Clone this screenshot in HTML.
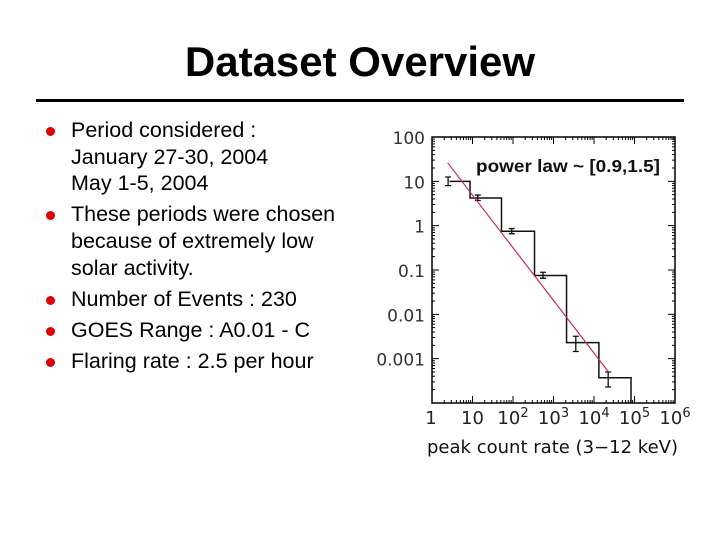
<!DOCTYPE html>
<html><head><meta charset="utf-8"><style>
body{margin:0;width:720px;height:540px;background:#fff;overflow:hidden;font-family:"Liberation Sans",Arial,sans-serif;position:relative}
.t{position:absolute;white-space:nowrap;color:#000}
.b{position:absolute;width:9px;height:9px;border-radius:50%;background:#e00000}
</style></head><body>
<div class="t" style="left:0;width:720px;text-align:center;top:38px;font-size:42px;font-weight:bold">Dataset Overview</div>
<div style="position:absolute;left:36px;top:99px;width:648px;height:3px;background:#000"></div>
<div style="font-size:21.5px">
<div class="b" style="left:46px;top:127px"></div>
<div class="t" style="left:71px;top:118px">Period considered :</div>
<div class="t" style="left:71px;top:145px">January 27-30, 2004</div>
<div class="t" style="left:71px;top:171px">May 1-5, 2004</div>
<div class="b" style="left:46px;top:211px"></div>
<div class="t" style="left:71px;top:202px">These periods were chosen</div>
<div class="t" style="left:71px;top:229px">because of extremely low</div>
<div class="t" style="left:71px;top:256px">solar activity.</div>
<div class="b" style="left:46px;top:296px"></div>
<div class="t" style="left:71px;top:287px">Number of Events : 230</div>
<div class="b" style="left:46px;top:327px"></div>
<div class="t" style="left:71px;top:318px">GOES Range : A0.01 - C</div>
<div class="b" style="left:46px;top:358px"></div>
<div class="t" style="left:71px;top:349px">Flaring rate : 2.5 per hour</div>
</div>
<svg id="chart" width="720" height="540" style="position:absolute;left:0;top:0" xmlns="http://www.w3.org/2000/svg"></svg>
<script>
const binEdges=[2.7,8.7,52,340,2100,13200,82000];
const binValues=[10,4.2,0.75,0.075,0.0023,0.00037];
const pointX=[2.5,13.5,93,550,3550,22400];
const pointY=[9.5,4.2,0.75,0.075,0.0022,0.00035];
const errLo=[8,3.7,0.66,0.065,0.00145,0.00023];
const errHi=[12.5,4.9,0.86,0.089,0.0032,0.0005];
const fitX=[2.45,22900];
const fitY=[26,0.0005];
const xTicks=[1,10,100,1000,10000,100000,1000000];
const xTickLabels=["1","10","10<tspan dy='-7' font-size='13'>2</tspan>","10<tspan dy='-7' font-size='13'>3</tspan>","10<tspan dy='-7' font-size='13'>4</tspan>","10<tspan dy='-7' font-size='13'>5</tspan>","10<tspan dy='-7' font-size='13'>6</tspan>"];
const yTicks=[100,10,1,0.1,0.01,0.001];
const yTickLabels=["100","10","1","0.1","0.01","0.001"];
const L=432,R=675,T=137,B=403;
const X=v=>L+(Math.log10(v))/6*(R-L);
const Y=v=>T+(2-Math.log10(v))/6*(B-T);
const svg=document.getElementById('chart');
const NS='http://www.w3.org/2000/svg';
function mk(tag,attrs){const e=document.createElementNS(NS,tag);for(const k in attrs)e.setAttribute(k,attrs[k]);svg.appendChild(e);return e;}
let f=mk('rect',{x:L,y:T,width:R-L,height:B-T,fill:'none',stroke:'#000','stroke-width':1.5});


let tk='';
for(let d=0;d<6;d++)for(let m=1;m<10;m++){const x=X(Math.pow(10,d)*m);const h=m==1?7:3;tk+=`M${x} ${B}v${-h}M${x} ${T}v${h}`;}
for(let d=-4;d<2;d++)for(let m=1;m<10;m++){const y=Y(Math.pow(10,d)*m);const h=m==1?7:3;tk+=`M${L} ${y}h${h}M${R} ${y}h${-h}`;}
let ticks=mk('path',{d:tk,stroke:'#000','stroke-width':1,fill:'none'});


xTicks.forEach((v,i)=>{const t=mk('text',{x:X(v)+(i?0:-1),y:424,'font-size':18,'text-anchor':'middle','font-family':'DejaVu Sans, sans-serif',fill:'#222'});t.innerHTML=xTickLabels[i];

});
yTicks.forEach((v,i)=>{const t=mk('text',{x:425,y:Y(v)+7,'font-size':17,'text-anchor':'end','font-family':'DejaVu Sans, sans-serif',fill:'#333'});t.textContent=yTickLabels[i];

});
let d=`M${X(binEdges[0])} ${Y(binValues[0])}`;
binValues.forEach((v,i)=>{d+=`H${X(binEdges[i+1])}`;d+=`V${i+1<binValues.length?Y(binValues[i+1]):B}`;});
let h=mk('path',{d:d,fill:'none',stroke:'#111','stroke-width':1.5});


pointX.forEach((v,i)=>{const x=X(v),y1=Y(errHi[i]),y2=Y(errLo[i]);
const e=mk('path',{d:`M${x} ${y1}V${y2}M${x-3} ${y1}h6M${x-3} ${y2}h6`,stroke:'#111','stroke-width':1.3,fill:'none'});

});
let fl=mk('line',{x1:X(fitX[0]),y1:Y(fitY[0]),x2:X(fitX[1]),y2:Y(fitY[1]),stroke:'#c0304a','stroke-width':1.2});


let ann=mk('text',{x:476,y:172,'font-size':17.5,'font-weight':'bold','font-family':'Liberation Sans, sans-serif',fill:'#111',textLength:184,lengthAdjust:'spacingAndGlyphs'});
ann.textContent='power law ~ [0.9,1.5]';


let xt=mk('text',{x:427,y:453,'font-size':17.5,'font-family':'DejaVu Sans, sans-serif',fill:'#111',textLength:251,lengthAdjust:'spacingAndGlyphs'});
xt.textContent='peak count rate (3\u221212 keV)';


</script>
</body></html>
